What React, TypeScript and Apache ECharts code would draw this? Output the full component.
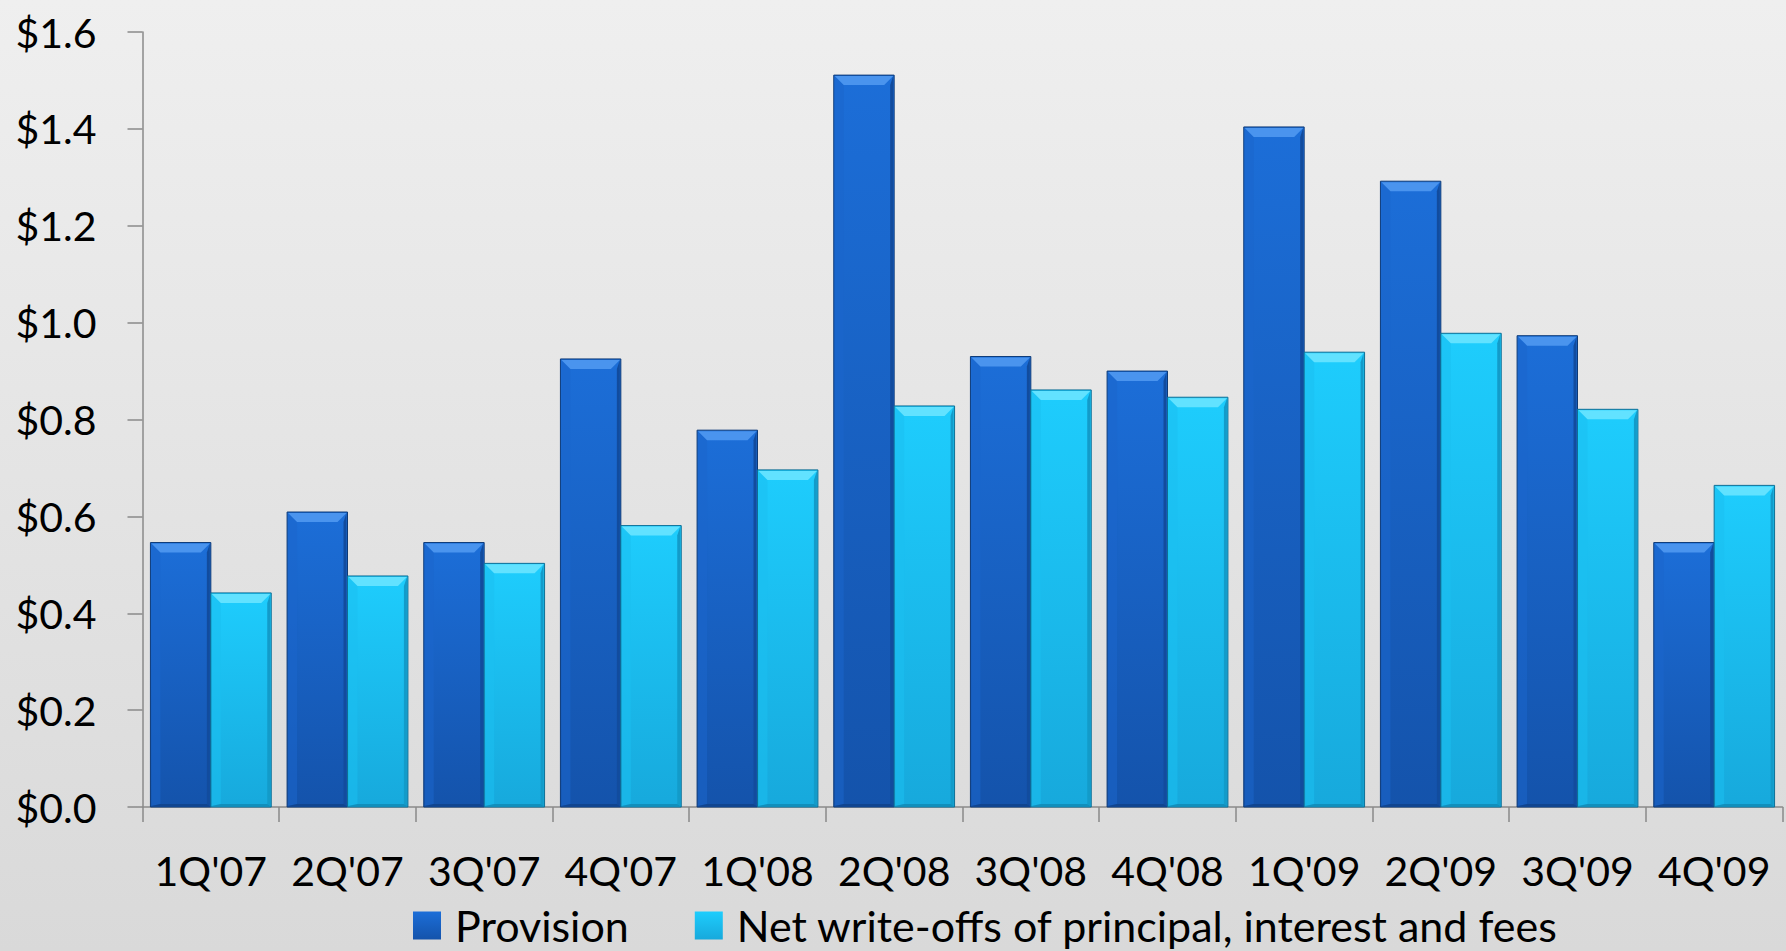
import React, { useEffect, useRef } from "react";
import * as echarts from "echarts";

// Quarterly provision vs. net write-offs ($ billions)
const quarters = [
  "1Q'07", "2Q'07", "3Q'07", "4Q'07",
  "1Q'08", "2Q'08", "3Q'08", "4Q'08",
  "1Q'09", "2Q'09", "3Q'09", "4Q'09",
];
const provision = [0.546, 0.609, 0.546, 0.925, 0.778, 1.511, 0.93, 0.9, 1.404, 1.292, 0.973, 0.546];
const netWriteOffs = [0.442, 0.477, 0.503, 0.581, 0.696, 0.828, 0.861, 0.846, 0.939, 0.978, 0.821, 0.664];

const seriesNames = ["Provision", "Net write-offs of principal, interest and fees"];

const yMin = 0;
const yMax = 1.6;
const yStep = 0.2;

const FONT = "Lato, 'Open Sans', 'Noto Sans', sans-serif";

type Palette = {
  faceTop: string;
  faceBottom: string;
  bevelTop: string;
  bevelLeft: string;
  bevelRight: string;
  bevelBottom: string;
  outline: string;
};

const palettes: Palette[] = [
  {
    faceTop: "#1c6ed8",
    faceBottom: "#1453ab",
    bevelTop: "#4a94ee",
    bevelLeft: "#1b66cc",
    bevelRight: "#124c9e",
    bevelBottom: "#0f428a",
    outline: "#0d3a78",
  },
  {
    faceTop: "#1ecdfd",
    faceBottom: "#17a9dc",
    bevelTop: "#62e2ff",
    bevelLeft: "#1bc0f0",
    bevelRight: "#139bc9",
    bevelBottom: "#1088b4",
    outline: "#0d6f96",
  },
];

const CATEGORY_GAP = 0.116;

// Draws one bevelled bar: gradient face plus light top / dark right and bottom facets
function bevelBar(seriesIndex: number, pal: Palette) {
  return (params: any, api: any) => {
    const cat = api.value(0);
    const val = api.value(1);
    const base = api.coord([cat, 0]);
    const top = api.coord([cat, val]);
    const band = api.size([1, 0])[0];
    const barW = (band * (1 - CATEGORY_GAP)) / 2;
    const x0 = base[0] - barW + seriesIndex * barW;
    const x1 = x0 + barW;
    const yT = top[1];
    const yB = base[1];
    const h = yB - yT;
    const b = Math.min(10, h / 2);
    const bb = Math.min(3, h / 4);
    const face = new echarts.graphic.LinearGradient(0, 0, 0, 1, [
      { offset: 0, color: pal.faceTop },
      { offset: 1, color: pal.faceBottom },
    ]);
    return {
      type: "group",
      children: [
        {
          type: "rect",
          shape: { x: x0, y: yT, width: barW, height: h },
          style: { fill: face, stroke: pal.outline, lineWidth: 1 },
        },
        {
          type: "polygon",
          shape: { points: [[x0 + 1, yT + 1], [x0 + b, yT + b], [x0 + b, yB - bb], [x0 + 1, yB - 1]] },
          style: { fill: pal.bevelLeft, opacity: 0.55 },
        },
        {
          type: "polygon",
          shape: { points: [[x1 - 1, yT + 1], [x1 - 1, yB - 1], [x1 - 4, yB - bb], [x1 - 4, yT + b]] },
          style: { fill: pal.bevelRight },
        },
        {
          type: "polygon",
          shape: { points: [[x0 + 1, yB - 1], [x1 - 1, yB - 1], [x1 - 4, yB - bb], [x0 + b, yB - bb]] },
          style: { fill: pal.bevelBottom, opacity: 0.8 },
        },
        {
          type: "polygon",
          shape: { points: [[x0 + 1, yT + 1], [x1 - 1, yT + 1], [x1 - b, yT + b], [x0 + b, yT + b]] },
          style: { fill: pal.bevelTop },
        },
      ],
    };
  };
}

export default function App() {
  const ref = useRef<HTMLDivElement>(null);

  useEffect(() => {
    if (!ref.current) return;
    const chart = echarts.init(ref.current, undefined, { renderer: "svg" });
    const seriesData = [provision, netWriteOffs];

    chart.setOption({
      animation: false,
      backgroundColor: "transparent",
      textStyle: { fontFamily: FONT },
      grid: { left: 142.5, right: 3.5, top: 32, bottom: 144, containLabel: false },
      legend: {
        left: 413,
        top: 904,
        padding: 0,
        itemWidth: 28,
        itemHeight: 28,
        itemGap: 66,
        icon: "rect",
        textStyle: { fontFamily: FONT, fontSize: 43, color: "#000", padding: [0, 0, 0, 9], lineHeight: 42 },
        data: seriesNames,
      },
      xAxis: {
        type: "category",
        data: quarters,
        boundaryGap: true,
        axisLine: { show: true, lineStyle: { color: "#8a8a8a", width: 1.5 } },
        axisTick: { show: true, length: 15, alignWithLabel: false, lineStyle: { color: "#8a8a8a", width: 1.5 } },
        axisLabel: { fontFamily: FONT, fontSize: 41, color: "#000", margin: 43, interval: 0, lineHeight: 40 },
        splitLine: { show: false },
      },
      yAxis: {
        type: "value",
        min: yMin,
        max: yMax,
        interval: yStep,
        axisLine: { show: true, lineStyle: { color: "#8a8a8a", width: 1.5 } },
        axisTick: { show: true, length: 15, lineStyle: { color: "#8a8a8a", width: 1.5 } },
        axisLabel: {
          fontFamily: FONT,
          fontSize: 41,
          color: "#000",
          margin: 46,
          formatter: (v: number) => "$" + v.toFixed(1),
        },
        splitLine: { show: false },
      },
      series: seriesData.map((vals, si) => ({
        type: "custom",
        name: seriesNames[si],
        renderItem: bevelBar(si, palettes[si]),
        encode: { x: 0, y: 1 },
        itemStyle: {
          color: new echarts.graphic.LinearGradient(0, 0, 0, 1, [
            { offset: 0, color: palettes[si].faceTop },
            { offset: 1, color: palettes[si].faceBottom },
          ]),
        },
        data: vals.map((v, i) => [i, v]),
      })),
    });

    return () => chart.dispose();
  }, []);

  return (
    <div
      style={{
        position: "fixed",
        left: 0,
        top: 0,
        width: 1786,
        height: 951,
        background: "linear-gradient(to bottom, #efefef 0%, #e4e4e4 50%, #d9d9d9 100%)",
      }}
    >
      <div ref={ref} style={{ width: 1786, height: 951 }} />
    </div>
  );
}
